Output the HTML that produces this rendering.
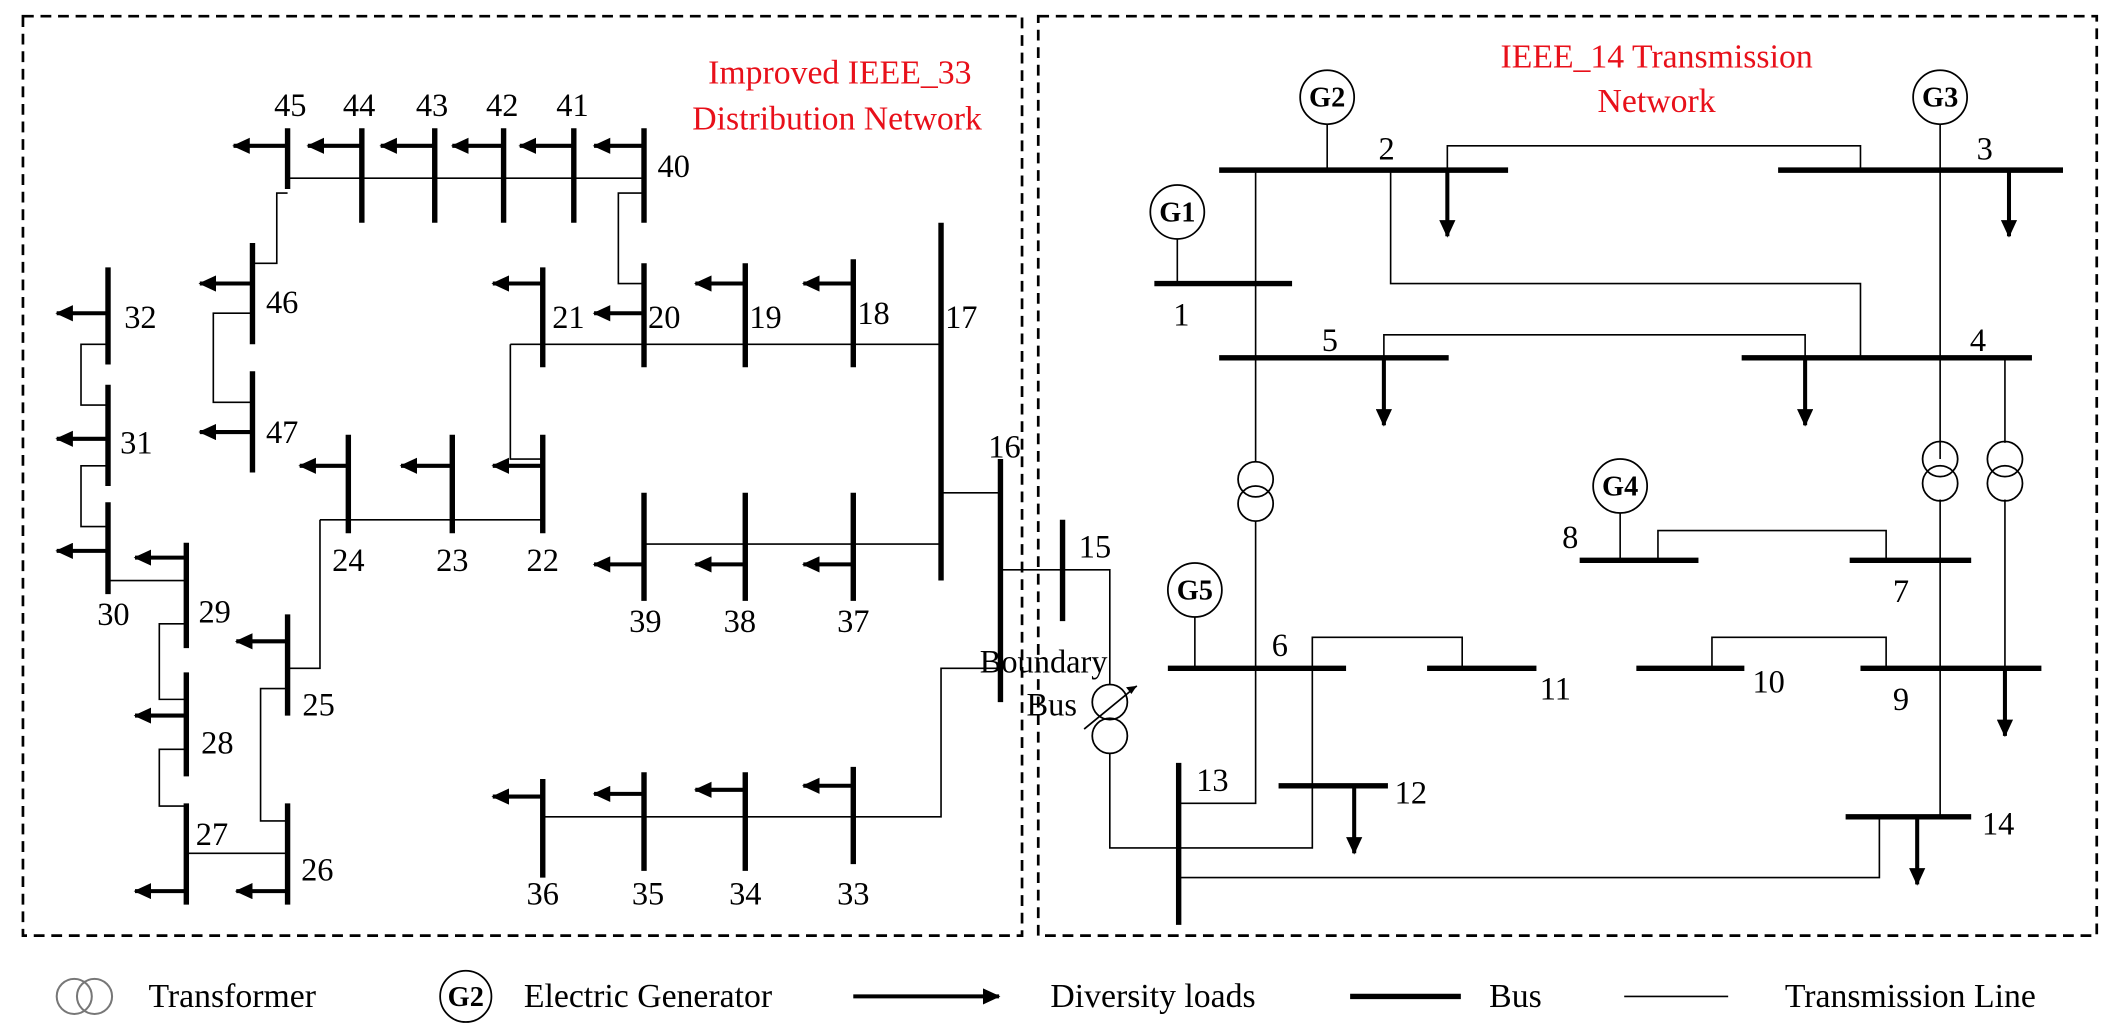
<!DOCTYPE html>
<html><head><meta charset="utf-8"><style>html,body{margin:0;padding:0;background:#fff}svg{display:block}</style></head>
<body>
<svg width="2117" height="1028" viewBox="0 0 1568 761.4" preserveAspectRatio="none" xmlns="http://www.w3.org/2000/svg" font-family="Liberation Serif, serif" font-size="24">
<defs>
<marker id="a" markerUnits="userSpaceOnUse" markerWidth="14" markerHeight="12" refX="12" refY="6" orient="auto"><path d="M0,0 L13,6 L0,12 z" fill="#000"/></marker>
</defs>
<g fill="none" stroke="#000" stroke-width="2" stroke-dasharray="8,5">
<rect x="17" y="12" width="740" height="681"/>
<rect x="769" y="12" width="784" height="681"/>
</g>
<g fill="#e8101a" font-size="25" text-anchor="middle">
<text x="622" y="62">Improved IEEE_33</text><text x="620" y="96">Distribution Network</text>
<text x="1227" y="50">IEEE_14 Transmission</text><text x="1227" y="83">Network</text>
</g>
<g fill="none" stroke="#000" stroke-width="1.2">
<path d="M213,132 H477"/>
<path d="M213,143 H205 V195 H187"/>
<path d="M187,232 H158 V298 H187"/>
<path d="M477,143 H458 V210 H477"/>
<path d="M378,255 H697"/>
<path d="M378,255 V340 H402"/>
<path d="M237,385 H402"/>
<path d="M237,385 V495 H213"/>
<path d="M213,510 H193 V608 H213"/>
<path d="M138,632 H213"/>
<path d="M138,555 H118 V597 H138"/>
<path d="M138,462 H118 V518 H138"/>
<path d="M80,430 H138"/>
<path d="M80,345 H60 V390 H80"/>
<path d="M80,255 H60 V300 H80"/>
<path d="M697,365 H741"/>
<path d="M477,403 H697"/>
<path d="M402,605 H697 V495 H741"/>
<path d="M741,422 H787"/>
<path d="M787,422 H822 V507"/>
<path d="M822,558 V628 H972 V472 H1083 V495"/>
<path d="M983,92 V126"/>
<path d="M1437,92 V340"/>
<path d="M1072,126 V108 H1378 V126"/>
<path d="M872,177 V210"/>
<path d="M930,126 V342"/>
<path d="M930,386 V595 H873"/>
<path d="M1030,126 V210 H1378 V265"/>
<path d="M1025,265 V248 H1337 V265"/>
<path d="M1437,370 V605"/>
<path d="M1485,265 V328"/>
<path d="M1485,370 V495"/>
<path d="M1200,380 V415"/>
<path d="M1228,415 V393 H1397 V415"/>
<path d="M885,457 V495"/>
<path d="M1268,495 V472 H1397 V495"/>
<path d="M1392,605 V650 H873"/>
</g>
<g stroke="#000" stroke-width="4">
<path d="M213,95V140M268,95V165M322,95V165M373,95V165M425,95V165M477,95V165"/>
<path d="M187,180V255M187,275V350M477,195V272M402,198V272M552,195V272M632,192V272M697,165V430"/>
<path d="M402,322V395M335,322V395M258,322V395M213,455V530M213,595V670M138,595V670M138,498V575M138,402V480"/>
<path d="M80,372V440M80,285V360M80,198V270M741,340V520M632,365V445M552,365V445M477,365V445"/>
<path d="M632,568V640M552,572V645M477,572V645M402,577V650M787,385V460"/>
<path d="M903,126H1117M1317,126H1528M855,210H957M903,265H1073M1290,265H1505M1170,415H1258M1370,415H1460"/>
<path d="M865,495H997M1057,495H1138M1212,495H1292M1378,495H1512M873,565V685M947,582H1028M1367,605H1460"/>
</g>
<g stroke="#000" stroke-width="3" marker-end="url(#a)">
<line x1="213" y1="108" x2="173" y2="108"/><line x1="268" y1="108" x2="228" y2="108"/><line x1="322" y1="108" x2="282" y2="108"/><line x1="373" y1="108" x2="335" y2="108"/><line x1="425" y1="108" x2="385" y2="108"/><line x1="477" y1="108" x2="440" y2="108"/>
<line x1="187" y1="210" x2="148" y2="210"/><line x1="187" y1="320" x2="148" y2="320"/><line x1="402" y1="210" x2="365" y2="210"/><line x1="477" y1="232" x2="440" y2="232"/><line x1="552" y1="210" x2="515" y2="210"/><line x1="632" y1="210" x2="595" y2="210"/>
<line x1="402" y1="345" x2="365" y2="345"/><line x1="335" y1="345" x2="297" y2="345"/><line x1="258" y1="345" x2="222" y2="345"/><line x1="213" y1="475" x2="175" y2="475"/><line x1="213" y1="660" x2="175" y2="660"/><line x1="138" y1="660" x2="100" y2="660"/><line x1="138" y1="530" x2="100" y2="530"/><line x1="138" y1="413" x2="100" y2="413"/>
<line x1="80" y1="408" x2="42" y2="408"/><line x1="80" y1="325" x2="42" y2="325"/><line x1="80" y1="232" x2="42" y2="232"/><line x1="632" y1="418" x2="595" y2="418"/><line x1="552" y1="418" x2="515" y2="418"/><line x1="477" y1="418" x2="440" y2="418"/>
<line x1="632" y1="582" x2="595" y2="582"/><line x1="552" y1="585" x2="515" y2="585"/><line x1="477" y1="588" x2="440" y2="588"/><line x1="402" y1="590" x2="365" y2="590"/>
<line x1="1072" y1="126" x2="1072" y2="175"/><line x1="1488" y1="126" x2="1488" y2="175"/><line x1="1025" y1="265" x2="1025" y2="315"/><line x1="1337" y1="265" x2="1337" y2="315"/><line x1="1485" y1="495" x2="1485" y2="545"/><line x1="1003" y1="582" x2="1003" y2="632"/><line x1="1420" y1="605" x2="1420" y2="655"/>
<line x1="632" y1="738" x2="740" y2="738"/>
</g>
<g fill="none" stroke="#000" stroke-width="1.3">
<circle cx="930" cy="355" r="13"/><circle cx="930" cy="373" r="13"/>
<circle cx="1437" cy="340" r="13"/><circle cx="1437" cy="358" r="13"/>
<circle cx="1485" cy="340" r="13"/><circle cx="1485" cy="358" r="13"/>
<circle cx="822" cy="520" r="13"/><circle cx="822" cy="545" r="13"/>
<path d="M803,540 L842,508"/>
</g>
<path d="M842,508 l-8,1 l4,5z" fill="#000"/>
<g fill="#fff" stroke="#000" stroke-width="1.3">
<circle cx="983" cy="72" r="20"/><circle cx="1437" cy="72" r="20"/><circle cx="872" cy="157" r="20"/>
<circle cx="1200" cy="360" r="20"/><circle cx="885" cy="437" r="20"/><circle cx="345" cy="738" r="19"/>
</g>
<g font-weight="bold" text-anchor="middle" font-size="21">
<text x="983" y="79">G2</text><text x="1437" y="79">G3</text><text x="872" y="164">G1</text>
<text x="1200" y="367">G4</text><text x="885" y="444">G5</text><text x="345" y="745">G2</text>
</g>
<g text-anchor="middle">
<text x="215" y="86">45</text><text x="266" y="86">44</text><text x="320" y="86">43</text><text x="372" y="86">42</text><text x="424" y="86">41</text><text x="499" y="131">40</text>
<text x="209" y="232">46</text><text x="209" y="328">47</text><text x="421" y="243">21</text><text x="492" y="243">20</text><text x="567" y="243">19</text><text x="647" y="240">18</text><text x="712" y="243">17</text>
<text x="402" y="423">22</text><text x="335" y="423">23</text><text x="258" y="423">24</text><text x="236" y="530">25</text><text x="235" y="652">26</text>
<text x="157" y="626">27</text><text x="161" y="558">28</text><text x="159" y="461">29</text><text x="84" y="463">30</text><text x="101" y="336">31</text><text x="104" y="243">32</text>
<text x="744" y="339">16</text><text x="478" y="468">39</text><text x="548" y="468">38</text><text x="632" y="468">37</text>
<text x="632" y="670">33</text><text x="552" y="670">34</text><text x="480" y="670">35</text><text x="402" y="670">36</text>
<text x="811" y="413">15</text><text x="773" y="498">Boundary</text><text x="779" y="530">Bus</text>
<text x="1027" y="118">2</text><text x="1470" y="118">3</text><text x="875" y="241">1</text><text x="985" y="260">5</text><text x="1465" y="260">4</text>
<text x="1163" y="406">8</text><text x="1408" y="446">7</text><text x="948" y="486">6</text><text x="1152" y="518">11</text><text x="1310" y="513">10</text><text x="1408" y="526">9</text>
<text x="898" y="586">13</text><text x="1045" y="595">12</text><text x="1480" y="618">14</text>
</g>
<g fill="none" stroke="#777" stroke-width="1.5"><circle cx="55" cy="738" r="13"/><circle cx="70" cy="738" r="13"/></g>
<path d="M1000,738H1082" stroke="#000" stroke-width="4"/>
<path d="M1203,738H1280" stroke="#000" stroke-width="1.2"/>
<g font-size="25">
<text x="110" y="746">Transformer</text><text x="388" y="746">Electric Generator</text><text x="778" y="746">Diversity loads</text><text x="1103" y="746">Bus</text><text x="1322" y="746">Transmission Line</text>
</g>
</svg>
</body></html>
